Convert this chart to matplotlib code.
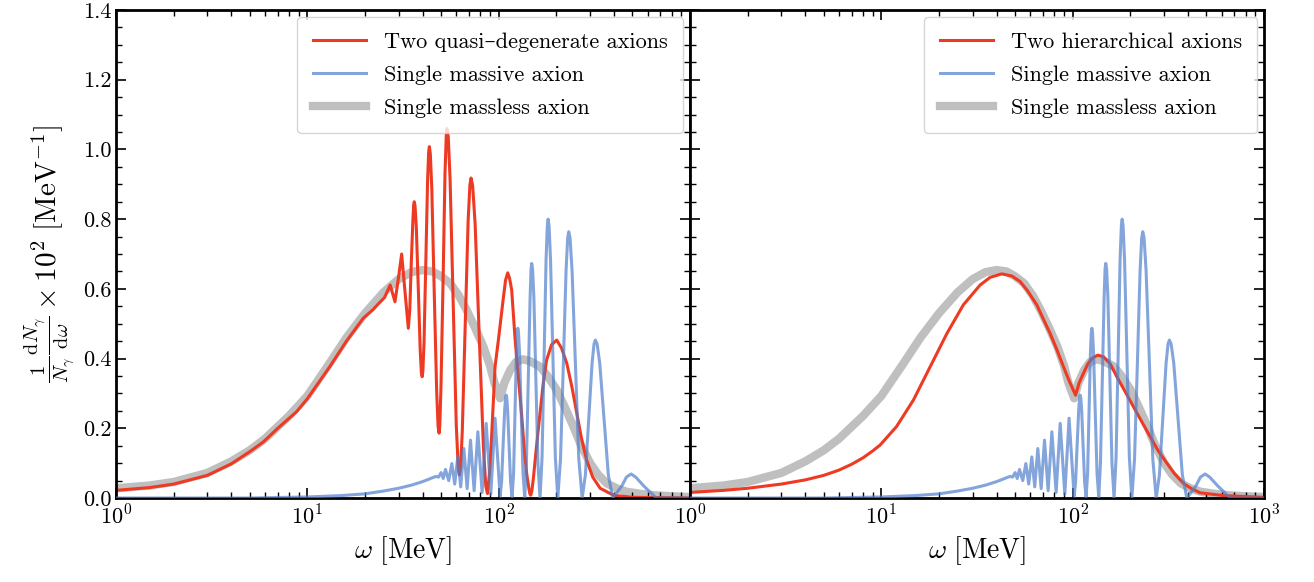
import matplotlib
matplotlib.use('Agg')
import matplotlib.pyplot as plt
from matplotlib.ticker import MultipleLocator

plt.rcParams['font.family'] = ['cmr10', 'DejaVu Serif']
plt.rcParams['mathtext.fontset'] = 'cm'
plt.rcParams['axes.formatter.use_mathtext'] = True

# single massless axion (grey, same in both panels)
w_massless = [1, 1.5, 2, 3, 4, 5, 6, 8, 10, 13, 16, 20, 25, 30, 35, 40, 45, 50, 55.7, 62, 68,
              75, 83.2, 90, 95, 101.7, 107, 114.8, 123, 133.6, 145, 164.4, 180, 201, 222,
              245.8, 270, 300.6, 330, 367, 420, 467, 550, 645, 800, 1000]
n_massless = [0.028, 0.036, 0.046, 0.072, 0.105, 0.137, 0.17, 0.235, 0.293, 0.385, 0.46, 0.53,
              0.59, 0.628, 0.648, 0.654, 0.65, 0.636, 0.616, 0.58, 0.539, 0.49, 0.434, 0.38,
              0.33, 0.286, 0.33, 0.367, 0.39, 0.398, 0.393, 0.377, 0.35, 0.31, 0.26, 0.205,
              0.15, 0.10, 0.068, 0.042, 0.026, 0.018, 0.012, 0.008, 0.005, 0.003]

# single massive axion (blue, same in both panels)
w_massive = [1, 5, 10, 15, 20, 25, 30, 35, 40, 45, 47, 48.5, 50, 51.3, 52.7, 54.8, 56.9, 58.9,
             61.1, 63.3, 65.7, 68.4, 71.2, 74.4, 77.8, 81.9, 86.0, 90.9, 93.3, 95.7, 98.7,
             101.7, 103.5, 105.4, 107.4, 108.6, 109.3, 110.2, 111.4, 113.3, 115.4, 117.5,
             119.6, 121.6, 123.7, 125.0, 125.9, 126.9, 128.5, 131.2, 134, 136.8, 139.6, 142.7,
             145.9, 147.6, 148.8, 150.3, 152.7, 156.5, 160.3, 164.4, 168.5, 172.6, 176.8,
             179.5, 181.2, 183.3, 186.6, 192.1, 197.7, 203.6, 210.4, 217.6, 224.9, 229.3,
             232.3, 236.0, 241.8, 251.8, 262.1, 273, 283.8, 295.5, 307.6, 314.9, 320, 326.8,
             337.3, 355.2, 374.1, 394.6, 440.6, 465, 492, 520, 572, 665, 1000]
n_massive = [0.0, 0.0, 0.003, 0.007, 0.012, 0.02, 0.028, 0.037, 0.047, 0.058, 0.062, 0.06, 0.073,
             0.056, 0.082, 0.05, 0.099, 0.04, 0.118, 0.032, 0.142, 0.027, 0.166, 0.021, 0.19,
             0.016, 0.214, 0.011, 0.12, 0.229, 0.115, 0.005, 0.045, 0.15, 0.25, 0.288, 0.295,
             0.288, 0.25, 0.15, 0.045, 0.003, 0.07, 0.24, 0.415, 0.475, 0.487, 0.475, 0.415,
             0.24, 0.07, 0.002, 0.1, 0.335, 0.575, 0.657, 0.673, 0.657, 0.575, 0.335, 0.1, 0.0,
             0.117, 0.40, 0.683, 0.781, 0.80, 0.781, 0.683, 0.40, 0.117, 0.0, 0.112, 0.382,
             0.652, 0.746, 0.764, 0.746, 0.652, 0.382, 0.112, 0.0, 0.066, 0.227, 0.387, 0.442,
             0.453, 0.442, 0.387, 0.227, 0.066, 0.0, 0.035, 0.06, 0.069, 0.06, 0.035, 0.0, 0.0]

# two quasi-degenerate axions (red, left panel)
w_quasi = [1, 1.5, 2, 3, 4, 5, 5.89, 7, 8.8, 10, 13.1, 16, 19.6, 22, 23.4, 25.3, 27.1, 28.7,
           29.9, 31.1, 32.4, 33.7, 34.3, 34.9, 35.6, 35.94, 36.2, 36.54, 37.1, 38.0, 38.9,
           39.43, 39.8, 40.15, 40.7, 41.6, 42.5, 43.03, 43.4, 43.9, 44.7, 46.0, 47.4, 48.2,
           48.8, 49.2, 49.9, 51.2, 52.4, 53.2, 53.7, 54.5, 55.7, 57.8, 60.0, 61.4, 62.3, 63.2,
           64.5, 66.8, 69.2, 70.7, 71.7, 73.1, 75.3, 79.1, 83.2, 85.6, 87.3, 89.5, 92.0, 95.7,
           99.6, 105.9, 108.6, 111.4, 114, 116.9, 121.9, 127, 132, 136, 140, 144, 145.5, 147,
           149, 152, 157, 164.4, 171, 178, 189, 201, 213, 227, 241, 256, 271, 288, 310, 339,
           398, 500, 1000]
n_quasi = [0.022, 0.03, 0.04, 0.065, 0.098, 0.133, 0.161, 0.2, 0.248, 0.285, 0.377, 0.45, 0.516,
           0.54, 0.556, 0.575, 0.611, 0.563, 0.63, 0.70, 0.59, 0.487, 0.54, 0.67, 0.797, 0.841,
           0.85, 0.838, 0.777, 0.60, 0.421, 0.36, 0.348, 0.364, 0.444, 0.678, 0.912, 0.992,
           1.008, 0.988, 0.888, 0.597, 0.306, 0.206, 0.186, 0.207, 0.314, 0.623, 0.932, 1.039,
           1.06, 1.036, 0.915, 0.563, 0.211, 0.09, 0.066, 0.086, 0.19, 0.492, 0.794, 0.898,
           0.918, 0.896, 0.786, 0.466, 0.145, 0.035, 0.013, 0.07, 0.186, 0.377, 0.453, 0.577,
           0.625, 0.646, 0.63, 0.597, 0.453, 0.34, 0.233, 0.14, 0.07, 0.025, 0.012, 0.008,
           0.02, 0.06, 0.14, 0.243, 0.33, 0.396, 0.44, 0.453, 0.43, 0.386, 0.32, 0.243, 0.17,
           0.109, 0.06, 0.028, 0.008, 0.002, 0.0]

# two hierarchical axions (red, right panel)
w_hier = [1, 1.5, 2, 3, 4, 5, 6, 7, 8, 9, 9.85, 12, 14.7, 18, 22, 26.8, 32.8, 37, 42.6, 48,
          53.1, 58, 64.9, 70, 76.2, 82, 89.4, 96, 103.5, 108, 113.8, 120, 127, 135.2, 145, 157,
          170, 188, 207.6, 230, 254, 280, 310.5, 340, 379, 420, 463, 613, 1000]
n_hier = [0.016, 0.022, 0.028, 0.04, 0.052, 0.065, 0.08, 0.097, 0.115, 0.135, 0.152, 0.205,
          0.281, 0.377, 0.472, 0.554, 0.611, 0.633, 0.643, 0.637, 0.621, 0.595, 0.554, 0.515,
          0.472, 0.43, 0.377, 0.335, 0.295, 0.33, 0.358, 0.385, 0.402, 0.41, 0.405, 0.385,
          0.348, 0.305, 0.262, 0.218, 0.176, 0.135, 0.10, 0.07, 0.042, 0.026, 0.015, 0.007,
          0.002]

red = '#ee3a22'
blue = '#4f7fcc'
grey = '#bfbfbf'

fig, (ax1, ax2) = plt.subplots(1, 2, figsize=(13.14, 5.82), dpi=100, sharey=True)
fig.subplots_adjust(left=0.0883, right=0.962, bottom=0.1443, top=0.9828, wspace=0)

panels = [(ax1, w_quasi, n_quasi, 'Two quasi\u2013degenerate axions'),
          (ax2, w_hier, n_hier, 'Two hierarchical axions')]

for ax, w_red, n_red, lab in panels:
    ax.plot(w_massless, n_massless, color=grey, lw=6, zorder=1, solid_capstyle='butt')
    ax.plot(w_red, n_red, color=red, lw=2.2, zorder=2)
    ax.plot(w_massive, n_massive, color=blue, lw=2.2, alpha=0.7, zorder=3)
    # legend handles in the reference order
    h_red, = ax.plot([], [], color=red, lw=2.2)
    h_blue, = ax.plot([], [], color=blue, lw=2.2, alpha=0.7)
    h_grey, = ax.plot([], [], color=grey, lw=6)
    ax.legend([h_red, h_blue, h_grey], [lab, 'Single massive axion', 'Single massless axion'],
              loc='upper right', fontsize=16, handlelength=2.4, borderaxespad=0.3,
              borderpad=0.7, labelspacing=0.6)
    ax.set_xscale('log')
    ax.set_xlim(1, 1000)
    ax.set_ylim(0, 1.4)
    ax.set_xlabel(r'$\omega\ [\mathrm{MeV}]$', fontsize=20)
    ax.tick_params(which='both', direction='in', top=True, right=True, labelsize=16)
    ax.tick_params(which='major', length=7, width=1.2)
    ax.tick_params(which='minor', length=4, width=1.0)
    ax.tick_params(axis='x', which='major', pad=5)
    for s in ax.spines.values():
        s.set_linewidth(2)

ax1.set_xticks([1, 10, 100, 1000], labels=['$10^{0}$', '$10^{1}$', '$10^{2}$', ''])
ax2.set_xticks([1, 10, 100, 1000], labels=['$10^{0}$', '$10^{1}$', '$10^{2}$', '$10^{3}$'])
ax1.set_yticks([0, 0.2, 0.4, 0.6, 0.8, 1.0, 1.2, 1.4],
               labels=['0.0', '0.2', '0.4', '0.6', '0.8', '1.0', '1.2', '1.4'])
ax1.yaxis.set_minor_locator(MultipleLocator(0.05))
ax2.tick_params(labelleft=False)
ax1.set_ylabel(r'$\frac{1}{N_\gamma}\frac{\mathrm{d}N_\gamma}{\mathrm{d}\omega}\times 10^2\ [\mathrm{MeV}^{-1}]$',
               fontsize=21)

fig.savefig('out.png', dpi=100)
